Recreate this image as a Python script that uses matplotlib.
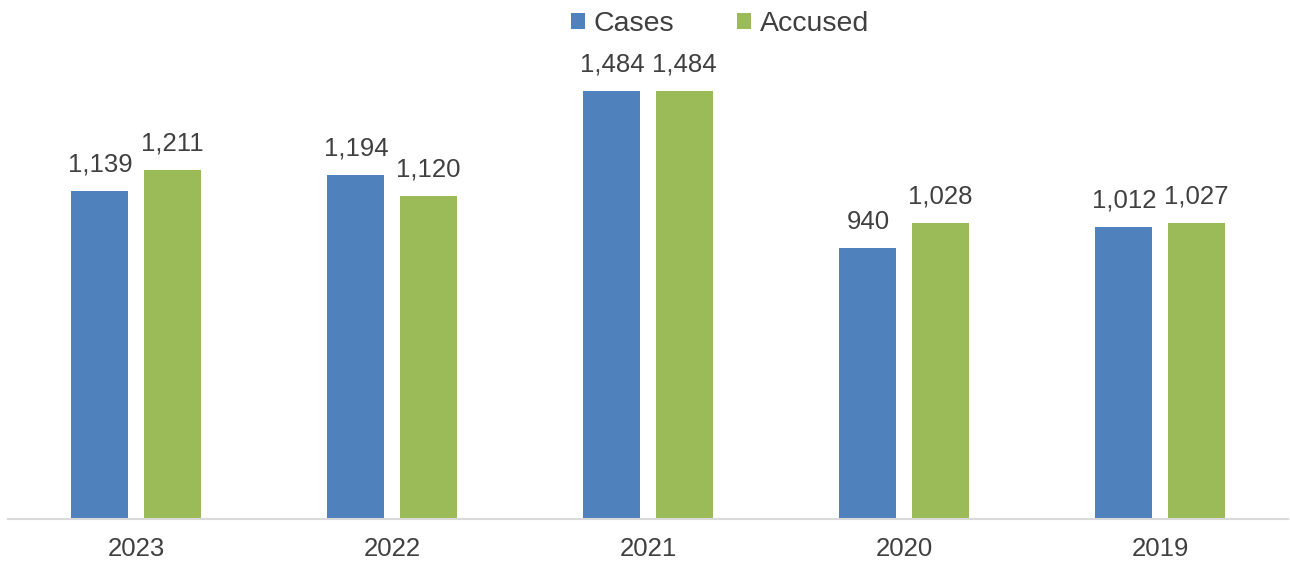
import numpy as np
import matplotlib
matplotlib.use("Agg")
import matplotlib.pyplot as plt
from matplotlib import font_manager

years = ["2023", "2022", "2021", "2020", "2019"]
cases = [1139, 1194, 1484, 940, 1012]
accused = [1211, 1120, 1484, 1028, 1027]

names = {f.name for f in font_manager.fontManager.ttflist}
fam = "Liberation Sans Narrow" if "Liberation Sans Narrow" in names else "Liberation Sans"
plt.rcParams["font.family"] = [fam, "DejaVu Sans"]

blue = "#4F81BD"
green = "#9BBB59"
txt = "#404040"
fs = 18.5

fig = plt.figure(figsize=(12.9, 5.71), dpi=100)
ax = fig.add_axes([8 / 1290, (571 - 519) / 571, 1280 / 1290, 519 / 571])

x = np.arange(len(years))
w = 0.223
off = 0.141
b1 = ax.bar(x - off, cases, w, color=blue, label="Cases")
b2 = ax.bar(x + off, accused, w, color=green, label="Accused")

for bars in (b1, b2):
    for r in bars:
        h = r.get_height()
        ax.text(r.get_x() + r.get_width() / 2, h + 50, f"{h:,}", ha="center", va="bottom",
                fontsize=fs, color=txt)

ax.set_xlim(-0.5, len(years) - 0.5)
ax.set_ylim(0, 1800)
ax.set_xticks(x)
ax.set_xticklabels(years, fontsize=fs, color=txt)
ax.tick_params(axis="x", length=0, pad=13)
ax.set_yticks([])
for s in ["top", "right", "left"]:
    ax.spines[s].set_visible(False)
ax.spines["bottom"].set_color("#D9D9D9")
ax.spines["bottom"].set_linewidth(1.5)

h1, l1 = ax.get_legend_handles_labels()
leg = fig.legend(h1, l1, loc="upper center", bbox_to_anchor=(720 / 1290, 1.0), ncol=2,
                 frameon=False, fontsize=20.5, handlelength=0.5, handleheight=0.5,
                 handletextpad=0.3, columnspacing=2.2, borderaxespad=0.0)
for t in leg.get_texts():
    t.set_color(txt)

fig.savefig("out.png", dpi=100)
